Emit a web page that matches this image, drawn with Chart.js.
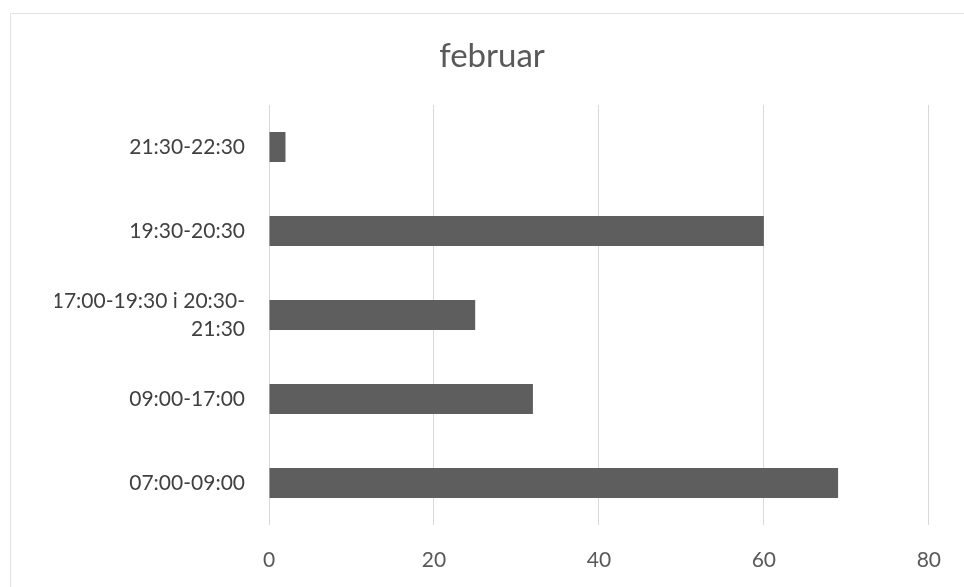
<!DOCTYPE html>
<html>
<head>
<meta charset="utf-8">
<script src="https://cdn.jsdelivr.net/npm/chart.js@4/dist/chart.umd.min.js"></script>
<style>
  html, body { margin: 0; padding: 0; background: #fff; overflow: hidden; }
  #ramme { position: absolute; left: 10px; top: 13px; right: -5px; bottom: -5px; border: 1px solid #e2e2e2; }
  #boks { position: absolute; left: 0; top: 0; width: 964px; height: 587px; }
</style>
</head>
<body>
<div id="ramme"></div>
<div id="boks"><canvas id="graf" width="964" height="587"></canvas></div>
<script>
// Tidsrom (ovenfra og ned) og antall
const tidsrom = ['21:30-22:30', '19:30-20:30', ['17:00-19:30 i 20:30-', '21:30'], '09:00-17:00', '07:00-09:00'];
const antall = [2, 60, 25, 32, 69];
const xMaks = 80;
const xSteg = 20;

const ctx = document.getElementById('graf').getContext('2d');
new Chart(ctx, {
    type: 'bar',
    data: {
        labels: tidsrom,
        datasets: [{
            label: 'februar',
            data: antall,
            backgroundColor: '#5e5e5e',
            borderWidth: 0,
            categoryPercentage: 1,
            barPercentage: 0.36
        }]
    },
    options: {
        indexAxis: 'y',
        responsive: false,
        animation: false,
        // venstre padding flytter tittelen mot midten av rammen
        layout: { padding: { top: 10, right: 35, bottom: 0, left: 55 } },
        plugins: {
            legend: { display: false },
            tooltip: { enabled: false },
            title: {
                display: true,
                text: 'februar',
                color: '#595959',
                font: { family: 'Lato', size: 33, weight: 'normal', lineHeight: 1.2 },
                padding: { top: 27, bottom: 28.4 }
            }
        },
        scales: {
            x: {
                min: 0,
                max: xMaks,
                afterFit: s => { s.height = 62; },
                grid: { color: '#d9d9d9', drawTicks: false },
                border: { display: false },
                ticks: { stepSize: xSteg, color: '#595959', padding: 23, font: { family: 'Lato', size: 21 } }
            },
            y: {
                afterFit: s => { s.width = 214; },
                grid: { display: false, drawTicks: false },
                border: { display: false },
                ticks: { color: '#404040', padding: 24, font: { family: 'Lato', size: 21, lineHeight: 1.35 } }
            }
        }
    }
});
</script>
</body>
</html>
